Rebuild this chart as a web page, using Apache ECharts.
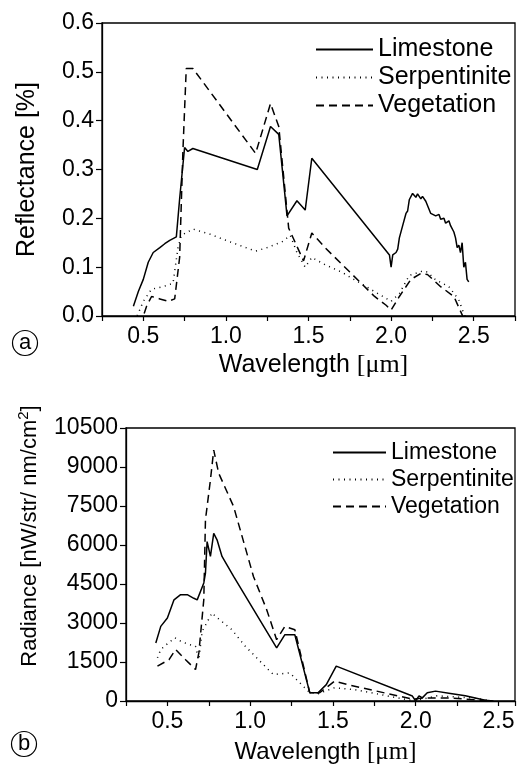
<!DOCTYPE html>
<html>
<head>
<meta charset="utf-8">
<script src="https://cdn.jsdelivr.net/npm/echarts@6/dist/echarts.min.js"></script>
<style>
html,body{margin:0;padding:0;background:#fff;}
#chart{width:518px;height:767px;}
</style>
</head>
<body>
<div id="chart"></div>
<script>
// ---------- Data (wavelength [µm], value) ----------
const seriesNames = ['Limestone', 'Serpentinite', 'Vegetation'];

// (a) Reflectance [%]
const reflLimestone = [
  [0.44,0.02],[0.47,0.05],[0.50,0.075],[0.53,0.11],[0.56,0.13],[0.60,0.14],[0.63,0.148],
  [0.66,0.155],[0.70,0.162],[0.72,0.24],[0.75,0.345],[0.77,0.337],[0.80,0.343],
  [1.19,0.30],[1.27,0.388],[1.32,0.372],[1.37,0.205],[1.43,0.236],[1.48,0.217],
  [1.52,0.323],[1.99,0.125],[2.00,0.10],[2.01,0.125],[2.03,0.13],[2.04,0.137],
  [2.05,0.16],[2.07,0.185],[2.09,0.21],[2.10,0.215],[2.11,0.238],[2.13,0.251],
  [2.15,0.243],[2.16,0.25],[2.18,0.24],[2.19,0.245],[2.21,0.235],[2.22,0.237],
  [2.24,0.21],[2.25,0.213],[2.27,0.205],[2.29,0.208],[2.30,0.198],[2.32,0.2],
  [2.33,0.19],[2.35,0.195],[2.36,0.185],[2.38,0.172],[2.39,0.16],[2.40,0.14],
  [2.41,0.145],[2.42,0.13],[2.43,0.15],[2.44,0.10],[2.45,0.11],[2.46,0.075],[2.47,0.07]
];
const reflSerpentinite = [
  [0.45,-0.01],[0.50,0.03],[0.55,0.055],[0.62,0.06],[0.68,0.067],[0.71,0.14],
  [0.73,0.165],[0.80,0.178],[0.90,0.168],[1.00,0.155],[1.08,0.145],[1.18,0.133],
  [1.25,0.14],[1.34,0.152],[1.39,0.165],[1.43,0.13],[1.48,0.10],[1.52,0.12],
  [1.60,0.105],[1.70,0.09],[1.80,0.07],[1.92,0.046],[2.00,0.03],[2.05,0.046],
  [2.11,0.083],[2.19,0.092],[2.22,0.09],[2.27,0.074],[2.35,0.06],[2.41,0.033],
  [2.44,0.005],[2.46,-0.01]
];
const reflVegetation = [
  [0.48,-0.02],[0.52,0.02],[0.55,0.04],[0.60,0.035],[0.65,0.03],[0.69,0.035],
  [0.72,0.12],[0.74,0.34],[0.76,0.507],[0.80,0.507],[1.18,0.333],[1.27,0.435],
  [1.32,0.388],[1.38,0.18],[1.47,0.113],[1.52,0.17],[1.60,0.14],[1.75,0.09],
  [1.90,0.04],[1.97,0.022],[2.00,0.012],[2.05,0.04],[2.12,0.075],[2.18,0.087],
  [2.22,0.085],[2.30,0.06],[2.38,0.04],[2.42,0.01],[2.46,-0.02]
];

// (b) Radiance [nW/str/nm/cm^2]
const radLimestone = [
  [0.43,2230],[0.46,2870],[0.50,3190],[0.54,3890],[0.58,4090],[0.62,4090],[0.66,3950],
  [0.68,3890],[0.72,4540],[0.73,4920],[0.74,6130],[0.76,5560],[0.78,6450],[0.80,6200],
  [0.83,5560],[0.90,4790],[1.16,2040],[1.21,2550],[1.27,2550],[1.36,320],[1.41,320],
  [1.46,630],[1.52,1340],[1.98,190],[2.00,0],[2.02,200],[2.04,120],[2.07,320],
  [2.12,380],[2.21,290],[2.30,200],[2.42,30],[2.47,0]
];
const radSerpentinite = [
  [0.44,1660],[0.46,1980],[0.50,2200],[0.545,2430],[0.58,2300],[0.62,2200],[0.67,2100],
  [0.69,1590],[0.71,2680],[0.77,3390],[0.79,3260],[0.89,2740],[0.97,2110],[1.10,1270],
  [1.14,1020],[1.24,1080],[1.30,700],[1.36,320],[1.41,280],[1.51,510],[1.63,440],
  [1.99,0],[2.13,200],[2.33,120],[2.45,30]
];
const radVegetation = [
  [0.44,1340],[0.51,1590],[0.55,1980],[0.61,1590],[0.67,1210],[0.69,1850],[0.72,3900],
  [0.73,6970],[0.76,8500],[0.78,9650],[0.81,8760],[0.90,7480],[1.02,4790],[1.10,3510],
  [1.16,2360],[1.21,2870],[1.27,2740],[1.36,320],[1.42,320],[1.51,760],[1.59,630],
  [1.98,70],[2.05,120],[2.21,120],[2.45,0]
];

// Axis ticks
const xTickLabels = [0.5, 1.0, 1.5, 2.0, 2.5];
const reflTicks = [0, 0.1, 0.2, 0.3, 0.4, 0.5, 0.6];
const radTicks = [0, 1500, 3000, 4500, 6000, 7500, 9000, 10500];

// ---------- Chart ----------
const FONT = '"Liberation Sans", Arial, Helvetica, sans-serif';
const SERIF = '"Liberation Serif", "Times New Roman", serif';
const lineStyles = [
  { color: '#000', width: 1.5, type: 'solid' },
  { color: '#000', width: 1.5, type: [1, 4.5] },
  { color: '#000', width: 1.5, type: [8, 5] }
];

function xLabelFmt(v) {
  for (const t of xTickLabels) if (Math.abs(v - t) < 1e-6) return t.toFixed(1);
  return '';
}

function xAxisCfg(grid, max, nameSize, gap) {
  return {
    type: 'value', gridIndex: grid, min: 0.25, max: max, interval: 0.25,
    axisLine: { show: true, onZero: false, lineStyle: { color: '#000', width: 1.3 } },
    axisTick: { show: true, inside: false, length: 5, lineStyle: { color: '#000', width: 1.2 } },
    splitLine: { show: false },
    axisLabel: { formatter: xLabelFmt, color: '#000', fontSize: 23, fontFamily: FONT, margin: 9 },
    name: 'Wavelength {s|[μm]}', nameLocation: 'middle', nameGap: gap,
    nameTextStyle: {
      color: '#000', fontSize: nameSize, fontFamily: FONT, padding: [0, 0, 0, 10],
      rich: { s: { fontFamily: SERIF, fontSize: nameSize + 1, color: '#000' } }
    }
  };
}

const option = {
  animation: false,
  backgroundColor: '#fff',
  textStyle: { fontFamily: FONT },
  grid: [
    { left: 102, top: 23, width: 414, height: 293, show: true, borderColor: '#000', borderWidth: 1.3, containLabel: false },
    { left: 126, top: 428, width: 389, height: 273, show: true, borderColor: '#000', borderWidth: 1.3, containLabel: false }
  ],
  xAxis: [ xAxisCfg(0, 2.75, 25, 36), xAxisCfg(1, 2.6, 24, 39) ],
  yAxis: [
    {
      type: 'value', gridIndex: 0, min: reflTicks[0], max: reflTicks[reflTicks.length - 1], interval: 0.1,
      axisLine: { show: true, lineStyle: { color: '#000', width: 1.3 } },
      axisTick: { show: true, length: 6, lineStyle: { color: '#000', width: 1.2 } },
      splitLine: { show: false },
      axisLabel: { color: '#000', fontSize: 23, fontFamily: FONT, margin: 8, formatter: v => v.toFixed(1) },
      name: 'Reflectance [%]', nameLocation: 'middle', nameGap: 62,
      nameTextStyle: { color: '#000', fontSize: 25, fontFamily: FONT }
    },
    {
      type: 'value', gridIndex: 1, min: radTicks[0], max: radTicks[radTicks.length - 1], interval: 1500,
      axisLine: { show: true, lineStyle: { color: '#000', width: 1.3 } },
      axisTick: { show: true, length: 6, lineStyle: { color: '#000', width: 1.2 } },
      splitLine: { show: false },
      axisLabel: { color: '#000', fontSize: 23, fontFamily: FONT, margin: 8, formatter: v => String(Math.round(v)) },
      name: 'Radiance [nW/str/ nm/cm{sup|2}]', nameLocation: 'middle', nameGap: 83,
      nameTextStyle: {
        color: '#000', fontSize: 22, fontFamily: FONT, padding: [0, 0, 0, 57],
        rich: { sup: { fontSize: 15, fontFamily: FONT, color: '#000', verticalAlign: 'top', padding: [0, 0, 12, 0] } }
      }
    }
  ],
  legend: [
    {
      data: seriesNames, orient: 'vertical', left: 310, top: 32, itemWidth: 57, itemHeight: 12, itemGap: 3,
      itemStyle: { opacity: 0 },
      textStyle: { color: '#000', fontSize: 25, fontFamily: FONT }
    },
    {
      data: seriesNames, orient: 'vertical', left: 327, top: 436, itemWidth: 53, itemHeight: 12, itemGap: 4,
      itemStyle: { opacity: 0 },
      textStyle: { color: '#000', fontSize: 23, fontFamily: FONT }
    }
  ],
  graphic: [
    { type: 'circle', shape: { cx: 25, cy: 343, r: 12.5 }, style: { fill: 'none', stroke: '#000', lineWidth: 1.2 } },
    { type: 'text', x: 25, y: 343, style: { text: 'a', fontSize: 22, fontFamily: FONT, fill: '#000', align: 'center', verticalAlign: 'middle' } },
    { type: 'circle', shape: { cx: 24, cy: 744, r: 12.5 }, style: { fill: 'none', stroke: '#000', lineWidth: 1.2 } },
    { type: 'text', x: 24, y: 744, style: { text: 'b', fontSize: 22, fontFamily: FONT, fill: '#000', align: 'center', verticalAlign: 'middle' } }
  ],
  series: []
};

const reflData = [reflLimestone, reflSerpentinite, reflVegetation];
const radData = [radLimestone, radSerpentinite, radVegetation];
seriesNames.forEach((n, i) => {
  option.series.push({ name: n, type: 'line', xAxisIndex: 0, yAxisIndex: 0, data: reflData[i],
    symbol: 'none', showSymbol: false, lineStyle: lineStyles[i], itemStyle: { color: '#000' }, clip: true });
});
seriesNames.forEach((n, i) => {
  option.series.push({ name: n, type: 'line', xAxisIndex: 1, yAxisIndex: 1, data: radData[i],
    symbol: 'none', showSymbol: false, lineStyle: lineStyles[i], itemStyle: { color: '#000' }, clip: true });
});

const chart = echarts.init(document.getElementById('chart'), null, { renderer: 'canvas' });
chart.setOption(option);
</script>
</body>
</html>
